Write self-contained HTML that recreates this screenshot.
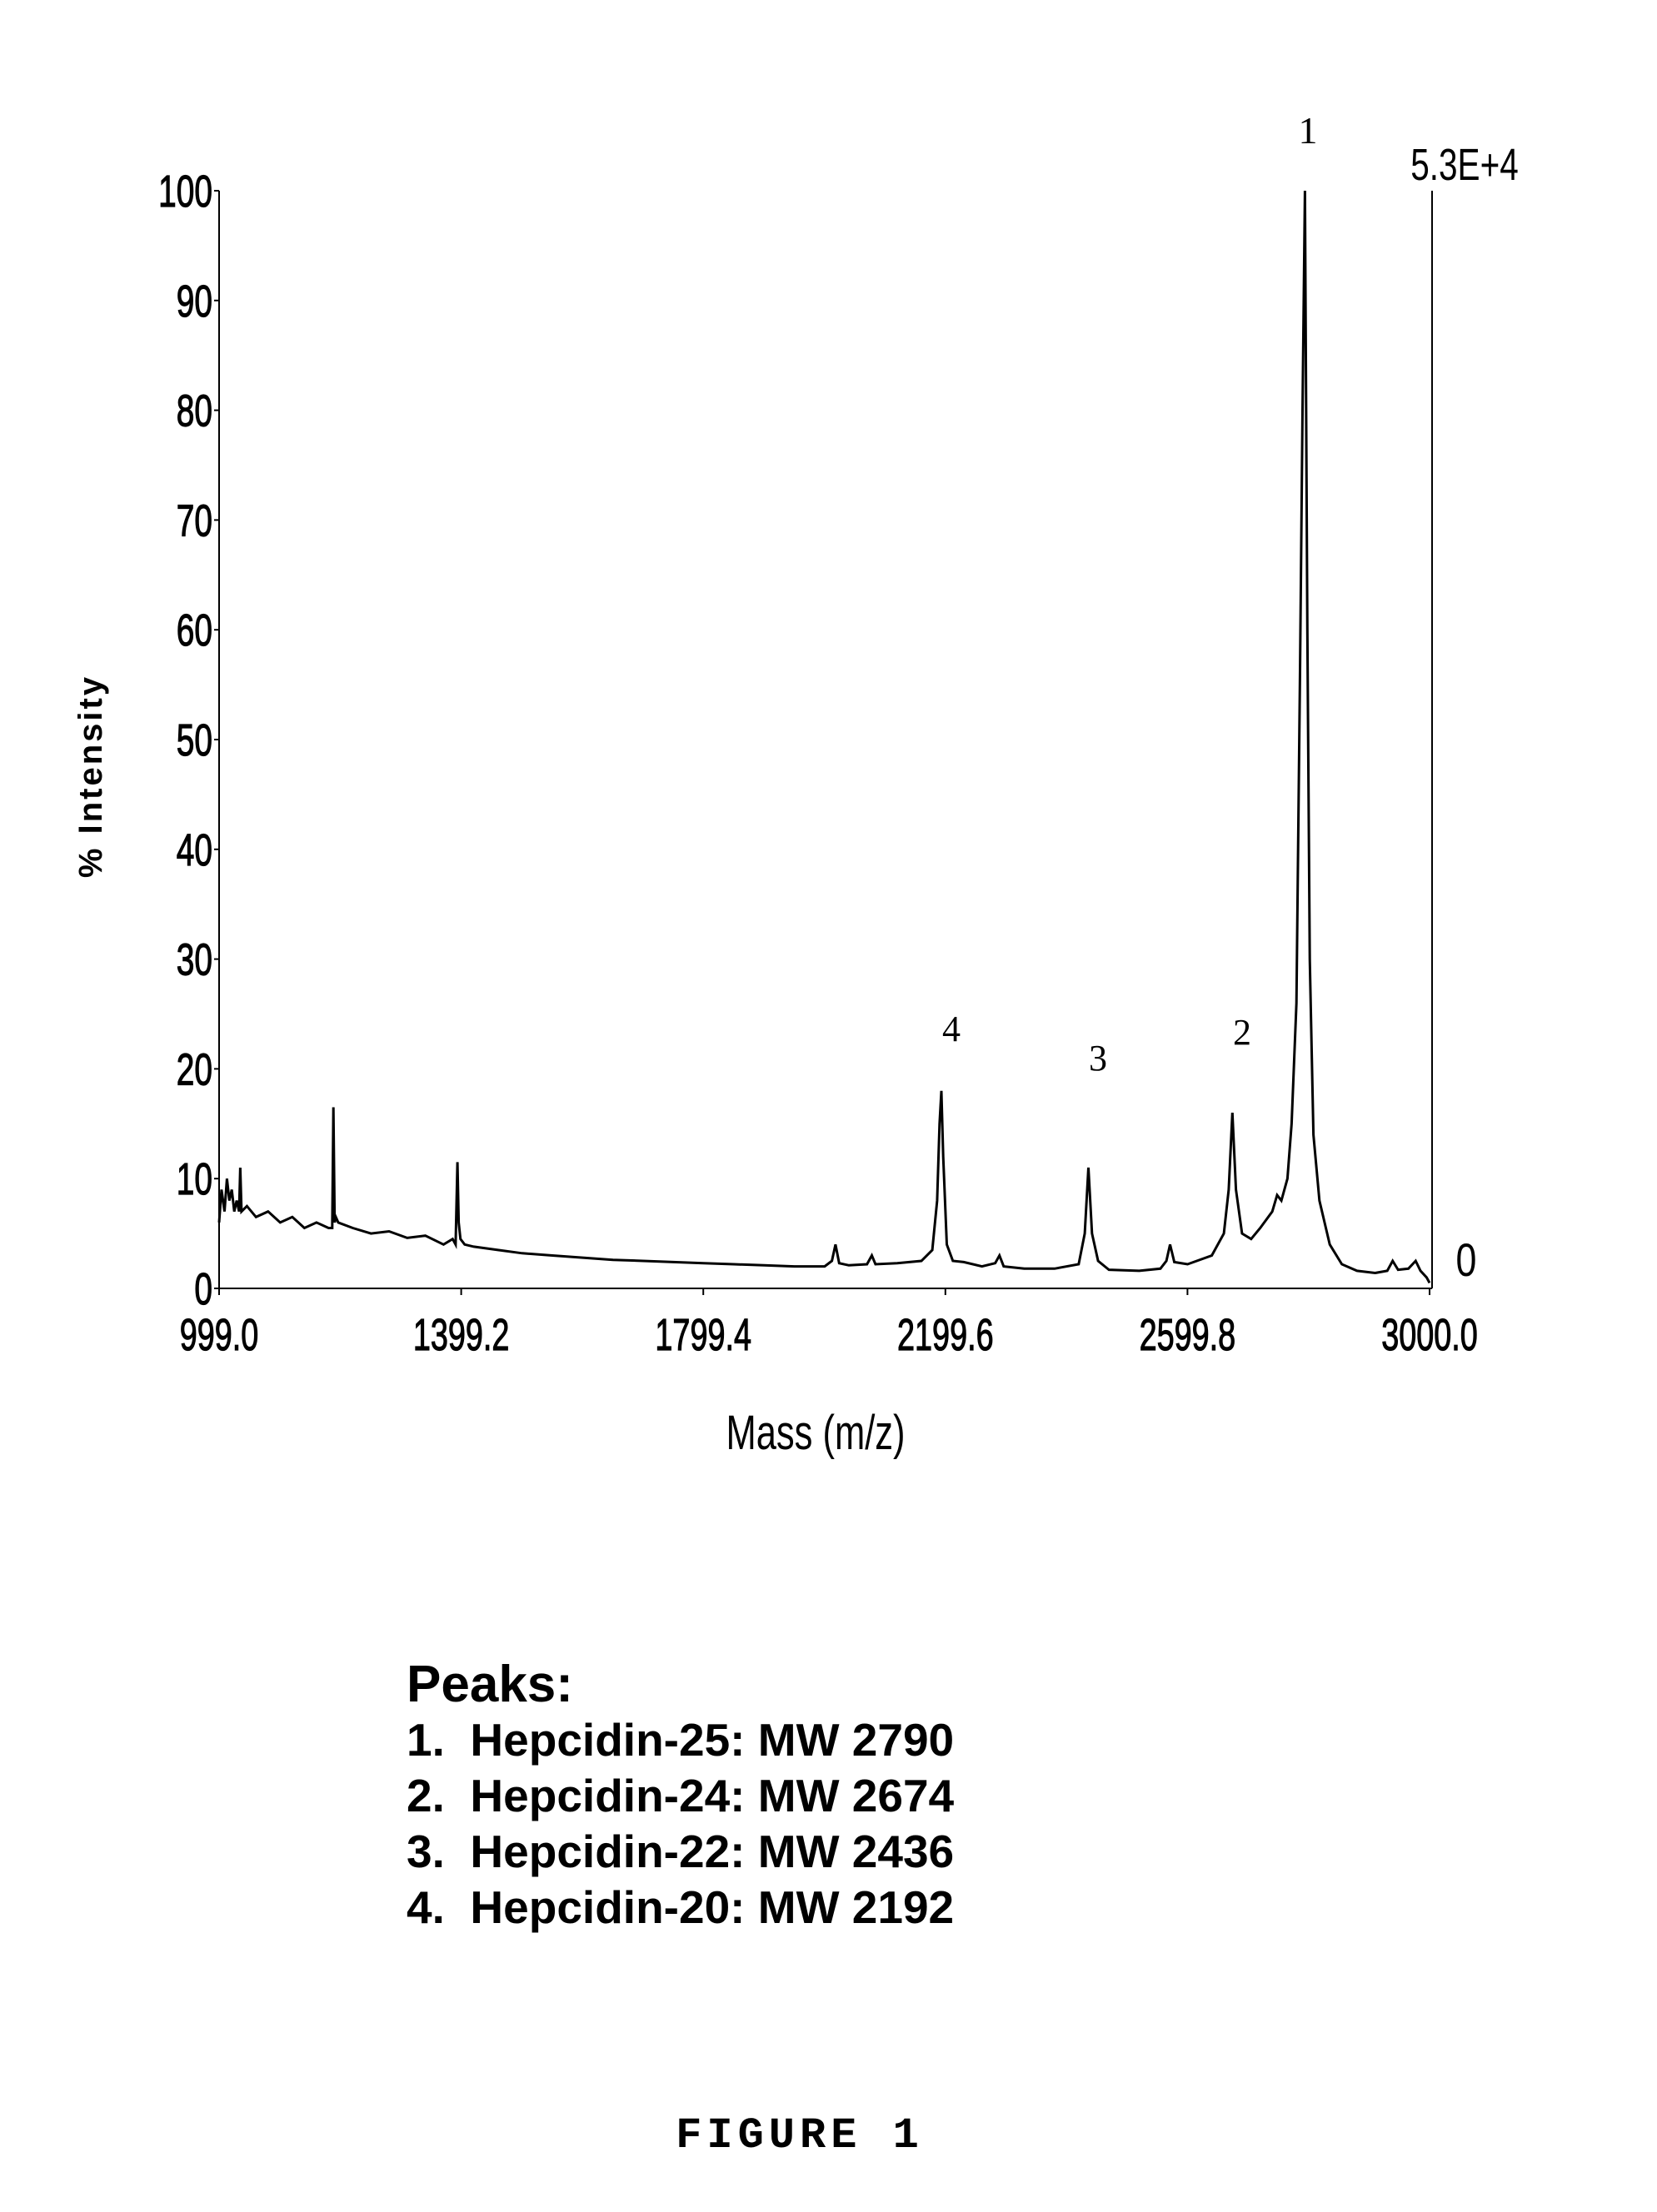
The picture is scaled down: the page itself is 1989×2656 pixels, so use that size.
<!DOCTYPE html>
<html><head><meta charset="utf-8"><style>
html,body{margin:0;padding:0;background:#fff;}
svg{display:block;}
.tk{font-family:"Liberation Sans",sans-serif;font-size:54px;}
</style></head><body>
<svg id="chart" width="1989" height="2656" viewBox="0 0 1989 2656" xmlns="http://www.w3.org/2000/svg">
<g id="axes"></g>
<path id="spec" fill="none" stroke="#000" stroke-width="3"/>
<text x="0" y="0" transform="translate(122,932) rotate(-90)" text-anchor="middle" font-family="Liberation Sans, sans-serif" font-size="40" font-weight="bold" letter-spacing="3">% Intensity</text>
<text x="0" y="0" transform="translate(979,1740) scale(0.75,1)" text-anchor="middle" font-family="Liberation Sans, sans-serif" font-size="58">Mass (m/z)</text>
<text x="1570" y="172" text-anchor="middle" font-family="Liberation Serif, serif" font-size="46">1</text>
<text x="0" y="0" transform="translate(1758,216) scale(0.75,1)" text-anchor="middle" font-family="Liberation Sans, sans-serif" font-size="54">5.3E+4</text>
<text x="1142" y="1250" text-anchor="middle" font-family="Liberation Serif, serif" font-size="44">4</text>
<text x="1318" y="1285" text-anchor="middle" font-family="Liberation Serif, serif" font-size="44">3</text>
<text x="1491" y="1254" text-anchor="middle" font-family="Liberation Serif, serif" font-size="44">2</text>
<text x="0" y="0" transform="translate(1760,1532) scale(0.8,1)" text-anchor="middle" font-family="Liberation Sans, sans-serif" font-size="56">0</text>
<g font-family="Liberation Sans, sans-serif" font-weight="bold">
<text x="488" y="2043" font-size="62">Peaks:</text>
<text x="488" y="2108" font-size="55">1.&#160; Hepcidin-25: MW 2790</text>
<text x="488" y="2175" font-size="55">2.&#160; Hepcidin-24: MW 2674</text>
<text x="488" y="2242" font-size="55">3.&#160; Hepcidin-22: MW 2436</text>
<text x="488" y="2309" font-size="55">4.&#160; Hepcidin-20: MW 2192</text>
</g>
<text x="960" y="2578" text-anchor="middle" font-family="Liberation Mono, monospace" font-weight="bold" font-size="52" letter-spacing="6">FIGURE 1</text>
</svg>
<script>
const yTicks=[0,10,20,30,40,50,60,70,80,90,100];
const xTicks=[999.0,1399.2,1799.4,2199.6,2599.8,3000.0];
const masses=[999,1003,1008,1012,1016,1020,1024,1028,1032,1034,1036,1045,1060,1080,1100,1120,1140,1160,1180,1186,1188,1190,1192,1196,1220,1250,1280,1310,1340,1370,1385,1390,1393,1395,1398,1405,1420,1460,1500,1550,1600,1650,1700,1750,1800,1850,1900,1950,2000,2012,2018,2024,2040,2070,2078,2084,2120,2160,2178,2186,2190,2193,2196,2202,2212,2230,2260,2282,2289,2296,2330,2380,2420,2430,2436,2442,2452,2470,2520,2555,2565,2571,2578,2600,2640,2660,2668,2674,2680,2690,2705,2720,2740,2748,2755,2765,2772,2780,2786,2790,2794,2798,2802,2808,2818,2835,2855,2880,2910,2930,2939,2948,2965,2977,2985,2995,3000];
const intensities=[6,9,7,10,8,9,7,8,7,11,7,7.5,6.5,7,6,6.5,5.5,6,5.5,5.5,16.5,6,6.5,6,5.5,5,5.2,4.6,4.8,4,4.5,4,11.5,6,4.5,4,3.8,3.5,3.2,3,2.8,2.6,2.5,2.4,2.3,2.2,2.1,2,2,2.5,4,2.3,2.1,2.2,3,2.2,2.3,2.5,3.5,8,15,18,12,4,2.5,2.4,2,2.3,3,2,1.8,1.8,2.2,5,11,5,2.5,1.7,1.6,1.8,2.5,4,2.4,2.2,3,5,9,16,9,5,4.5,5.5,7,8.5,8,10,15,26,57,80,100,60,30,14,8,4,2.2,1.6,1.4,1.6,2.5,1.7,1.8,2.5,1.6,1,0.5];
const X0=263,X1=1716,Y0=1547,Y1=229;
const xs=m=>X0+(m-999)/(3000-999)*(X1-X0);
const ys=v=>Y0-v/100*(Y0-Y1);
const ns="http://www.w3.org/2000/svg";
const ax=document.getElementById('axes');
function mk(t,a,txt){const e=document.createElementNS(ns,t);for(const k in a)e.setAttribute(k,a[k]);if(txt!==undefined)e.textContent=txt;ax.appendChild(e);return e;}
let e=mk('line',{x1:X0,y1:Y1,x2:X0,y2:Y0,stroke:'#000','stroke-width':2});


e=mk('line',{x1:X0,y1:Y0,x2:X1+3,y2:Y0,stroke:'#000','stroke-width':2});


e=mk('line',{x1:X1+3,y1:Y1,x2:X1+3,y2:Y0,stroke:'#000','stroke-width':2});


yTicks.forEach(v=>{
 const y=ys(v);
 let t=mk('line',{x1:X0-6,y1:y,x2:X0,y2:y,stroke:'#000','stroke-width':2});
 
 
 let l=mk('text',{x:0,y:0,transform:`translate(${X0-8},${y+19}) scale(0.72,1)`,'text-anchor':'end','class':'tk','stroke':'#000','stroke-width':1.2},String(v));
 
 
});
xTicks.forEach(v=>{
 const x=xs(v);
 let t=mk('line',{x1:x,y1:Y0,x2:x,y2:Y0+8,stroke:'#000','stroke-width':2});
 
 
 let l=mk('text',{x:0,y:0,transform:`translate(${x},${Y0+74}) scale(0.7,1)`,'text-anchor':'middle','class':'tk','stroke':'#000','stroke-width':1.2},v.toFixed(1));
 
 
});
let d='';
masses.forEach((m,i)=>{d+=(i?'L':'M')+xs(m).toFixed(1)+','+ys(intensities[i]).toFixed(1);});
document.getElementById('spec').setAttribute('d',d);
</script>
</body></html>
